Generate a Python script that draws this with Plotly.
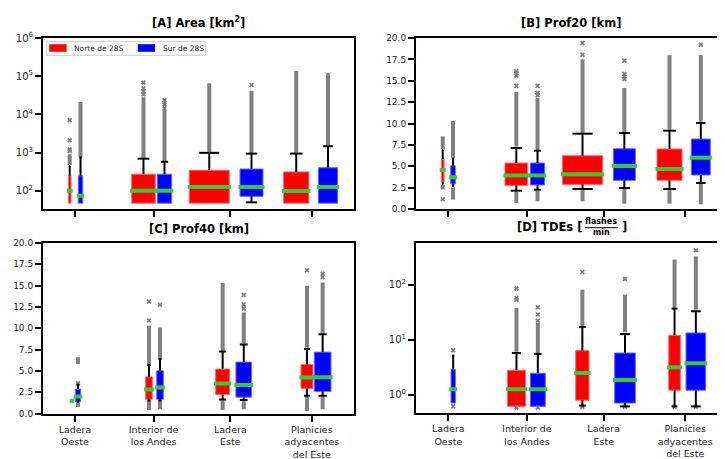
import math
import plotly.graph_objects as go

# ---------------- data ----------------
categories = ["Ladera<br>Oeste", "Interior de<br>los Andes", "Ladera<br>Este",
              "Planicies<br>adyacentes<br>del Este"]
series_names = ["Norte de 28S", "Sur de 28S"]

# [A] Area [km2]
A_red_q1 = [47, 47, 47, 47]
A_red_med = [100, 100, 125, 98]
A_red_q3 = [246, 270, 343, 310]
A_red_wlo = [47, 47, 47, 47]
A_red_whi = [445, 690, 980, 935]
A_red_fhi = [[470, 900], [700, 28000], [1000, 65000], [950, 137000]]
A_red_flo = [None, None, None, None]
A_red_pts = [[1100, 1200, 2100, 7000], [33000, 40000, 48000, 68000], [], []]

A_blue_q1 = [47, 47, 71, 47]
A_blue_med = [74, 100, 125, 125]
A_blue_q3 = [246, 270, 370, 400]
A_blue_wlo = [47, 47, 49.5, 47]
A_blue_whi = [740, 570, 935, 1460]
A_blue_fhi = [[760, 21000], [590, 15500], [960, 41500], [1500, 120000]]
A_blue_flo = [None, None, None, None]
A_blue_pts = [[], [18000, 20500, 23500], [59000], []]

# [B] Prof20 [km]
B_red_q1 = [3.19, 2.76, 2.88, 3.35]
B_red_med = [4.56, 3.93, 4.05, 4.68]
B_red_q3 = [5.85, 5.38, 6.23, 7.02]
B_red_wlo = [2.9, 2.14, 2.34, 2.34]
B_red_whi = [6.9, 7.13, 8.81, 9.16]
B_red_fhi = [[7.0, 8.5], [7.3, 13.7], [8.9, 17.5], [9.3, 18.0]]
B_red_flo = [[2.3, 2.8], [0.7, 2.0], [0.9, 2.2], [0.62, 2.2]]
B_red_pts = [[1.15], [14.4, 15.6, 15.9, 16.1], [18.05, 19.4], []]

B_blue_q1 = [2.92, 2.81, 3.35, 3.98]
B_blue_med = [3.70, 3.93, 5.03, 6.0]
B_blue_q3 = [5.06, 5.38, 7.05, 8.19]
B_blue_wlo = [2.7, 2.26, 2.45, 3.04]
B_blue_whi = [5.9, 6.82, 8.89, 10.06]
B_blue_fhi = [[6.0, 10.3], [6.9, 13.0], [9.0, 14.15], [10.2, 18.0]]
B_blue_flo = [[1.1, 2.55], [0.9, 2.15], [0.62, 2.35], [0.55, 2.95]]
B_blue_pts = [[], [13.3, 13.6, 14.4], [15.2, 15.5, 15.8, 17.35], [19.2]]

# [C] Prof40 [km]
C_red_q1 = [1.47, 1.65, 2.23, 2.94]
C_red_med = [1.5, 2.82, 3.52, 4.23]
C_red_q3 = [1.53, 4.31, 5.21, 5.75]
C_red_wlo = [1.47, 1.5, 1.65, 2.08]
C_red_whi = [1.53, 5.7, 7.28, 7.56]
C_red_fhi = [None, [5.8, 10.3], [7.4, 15.3], [7.7, 15.0]]
C_red_flo = [None, [0.4, 1.4], [0.4, 1.55], [0.3, 2.0]]
C_red_pts = [[], [10.9, 13.15], [], [16.8]]

C_blue_q1 = [1.41, 1.65, 1.92, 2.58]
C_blue_med = [2.0, 3.05, 3.33, 4.26]
C_blue_q3 = [2.86, 5.01, 6.03, 7.2]
C_blue_wlo = [1.35, 1.5, 1.57, 2.08]
C_blue_whi = [3.37, 6.38, 8.10, 9.31]
C_blue_fhi = [[5.8, 6.6], [6.5, 10.1], [8.2, 11.86], [9.4, 15.38]]
C_blue_flo = [[0.75, 1.25], [0.5, 1.4], [0.5, 1.45], [0.5, 2.0]]
C_blue_pts = [[3.55], [12.76], [12.3, 12.8, 13.9], [16.0, 16.4]]

# [D] TDEs [flashes/min]
D_red_q1 = [None, 0.61, 0.79, 1.2]
D_red_med = [None, 1.25, 2.47, 3.13]
D_red_q3 = [None, 2.77, 6.3, 12.0]
D_red_wlo = [None, 0.61, 0.63, 0.61]
D_red_whi = [None, 5.7, 16.9, 36.6]
D_red_fhi = [None, [6.0, 37.6], [17.5, 81], [38, 285]]
D_red_flo = [None, None, None, None]
D_red_pts = [[], [53, 57, 84.5, 0.58], [169, 0.6], [0.6]]

D_blue_q1 = [0.70, 0.61, 0.70, 1.2]
D_blue_med = [1.25, 1.25, 1.84, 3.71]
D_blue_q3 = [2.85, 2.44, 5.7, 13.2]
D_blue_wlo = [0.70, 0.61, 0.61, 0.61]
D_blue_whi = [5.1, 5.48, 12.6, 32.7]
D_blue_fhi = [None, [5.6, 20], [13.5, 65.8], [35, 327]]
D_blue_flo = [None, None, None, None]
D_blue_pts = [[6.4, 0.61], [22, 28.5, 38.6, 0.58], [126.5, 0.6], [421, 0.6]]

# tick labels
A_ytick_vals = [1e2, 1e3, 1e4, 1e5, 1e6]
A_ytick_text = ["10<sup>2</sup>", "10<sup>3</sup>", "10<sup>4</sup>", "10<sup>5</sup>",
                "10<sup>6</sup>"]
D_ytick_vals = [1, 10, 100]
D_ytick_text = ["10<sup>0</sup>", "10<sup>1</sup>", "10<sup>2</sup>"]
A_minor_vals = [m * 10 ** e for e in range(1, 6) for m in range(2, 10)]
D_minor_vals = [m * 10 ** e for e in range(-1, 3) for m in range(2, 10)]

# ---------------- layout: positions / widths (axis units) ----------------
tick_pos = [1, 1.997, 2.972, 4.006]
A_red_pos, A_red_w = [0.933, 1.869, 2.704, 3.808], [0.034, 0.300, 0.508, 0.321]
A_blue_pos, A_blue_w = [1.070, 2.136, 3.240, 4.211], [0.056, 0.183, 0.292, 0.245]
B_red_pos, B_red_w = [0.929, 1.863, 2.703, 3.807], [0.035, 0.288, 0.511, 0.317]
B_blue_pos, B_blue_w = [1.060, 2.132, 3.234, 4.204], [0.058, 0.181, 0.279, 0.241]
C_red_pos, C_red_w = [0.962, 1.939, 2.874, 3.944], [0.02, 0.084, 0.178, 0.152]
C_blue_pos, C_blue_w = [1.038, 2.079, 3.142, 4.143], [0.069, 0.084, 0.199, 0.212]
D_red_pos, D_red_w = [1.0, 1.865, 2.701, 3.871], [0.05, 0.232, 0.169, 0.148]
D_blue_pos, D_blue_w = [1.062, 2.136, 3.242, 4.141], [0.055, 0.190, 0.263, 0.250]

RED, BLUE = "#ff0000", "#0000ff"
RED_EDGE, BLUE_EDGE = "#ff6a6a", "#6a6aff"
GREEN = "#32cd32"
GRAY = "#808080"
FONT = "DejaVu Sans"
W, H = 725, 459
OX, OY = 8, 8          # page body margin of the html page
EXT = 0.02
PX_PER_UNIT = 78.8

AC_xrange = [0.594, 4.541]
BD_xrange = [0.590, 4.511]
A_yrange = [1.52, 6.0]
D_yrange = [-0.335, 2.756]

fig = go.Figure()


def add_panel(xa, ya, series):
    wx, wy, mx, my, fx, fy, px_, py_ = [], [], [], [], [], [], [], []
    for (name, fill, edge, q1, med, q3, wlo, whi, fhi, flo, pts, pos, wid) in series:
        for i in range(len(q1)):
            if q1[i] is None:
                continue
            fig.add_trace(go.Box(
                x=[pos[i]], q1=[q1[i]], median=[med[i]], q3=[q3[i]],
                lowerfence=[q1[i]], upperfence=[q3[i]], width=wid[i],
                fillcolor=fill, line=dict(color=edge, width=1), whiskerwidth=0,
                boxpoints=False, name=name, legendgroup=name, showlegend=False,
                hoverinfo="skip", xaxis=xa, yaxis=ya))
    for (name, fill, edge, q1, med, q3, wlo, whi, fhi, flo, pts, pos, wid) in series:
        for i in range(len(q1)):
            p = pos[i]
            for span in (fhi[i], flo[i]):
                if span:
                    fx += [p, p, None]
                    fy += [span[0], span[1], None]
            for v in pts[i]:
                px_.append(p)
                py_.append(v)
            if q1[i] is None:
                continue
            cw = wid[i] / 4
            if whi[i] > q3[i]:
                wx += [p, p, None, p - cw, p + cw, None]
                wy += [q3[i], whi[i], None, whi[i], whi[i], None]
            if wlo[i] < q1[i]:
                wx += [p, p, None, p - cw, p + cw, None]
                wy += [q1[i], wlo[i], None, wlo[i], wlo[i], None]
            mx += [p - wid[i] / 2 - EXT, p + wid[i] / 2 + EXT, None]
            my += [med[i], med[i], None]
    common = dict(xaxis=xa, yaxis=ya, showlegend=False, hoverinfo="skip")
    fig.add_trace(go.Scatter(x=fx, y=fy, mode="lines",
                             line=dict(color=GRAY, width=4), **common))
    fig.add_trace(go.Scatter(x=px_, y=py_, mode="markers",
                             marker=dict(symbol="x", size=4.5, color=GRAY,
                                         line=dict(width=0)), **common))
    fig.add_trace(go.Scatter(x=wx, y=wy, mode="lines",
                             line=dict(color="black", width=2), **common))
    fig.add_trace(go.Scatter(x=mx, y=my, mode="lines",
                             line=dict(color=GREEN, width=4), **common))


def add_minor_ticks(xa, ya, xrange_, yrange_, vals):
    # small outside tick marks for the log axis (matplotlib-style minor ticks)
    inside = [v for v in vals if yrange_[0] <= math.log10(v) <= yrange_[1]]
    xpos = xrange_[0] - 3.8 / PX_PER_UNIT
    fig.add_trace(go.Scatter(
        x=[xpos] * len(inside), y=inside, mode="markers", cliponaxis=False,
        marker=dict(symbol="line-ew", size=4, color="black",
                    line=dict(width=1, color="black")),
        xaxis=xa, yaxis=ya, showlegend=False, hoverinfo="skip"))


def ser(prefix, g):
    d = g
    return [
        (series_names[0], RED, RED_EDGE, d[prefix + "_red_q1"], d[prefix + "_red_med"],
         d[prefix + "_red_q3"], d[prefix + "_red_wlo"], d[prefix + "_red_whi"],
         d[prefix + "_red_fhi"], d[prefix + "_red_flo"], d[prefix + "_red_pts"],
         d[prefix + "_red_pos"], d[prefix + "_red_w"]),
        (series_names[1], BLUE, BLUE_EDGE, d[prefix + "_blue_q1"], d[prefix + "_blue_med"],
         d[prefix + "_blue_q3"], d[prefix + "_blue_wlo"], d[prefix + "_blue_whi"],
         d[prefix + "_blue_fhi"], d[prefix + "_blue_flo"], d[prefix + "_blue_pts"],
         d[prefix + "_blue_pos"], d[prefix + "_blue_w"]),
    ]


g = globals()
add_panel("x", "y", ser("A", g))
add_panel("x2", "y2", ser("B", g))
add_panel("x3", "y3", ser("C", g))
add_panel("x4", "y4", ser("D", g))
add_minor_ticks("x", "y", AC_xrange, A_yrange, A_minor_vals)
add_minor_ticks("x4", "y4", BD_xrange, D_yrange, D_minor_vals)


# ---------------- axes (screen px -> paper) ----------------
def PX(px):
    return (px - OX) / W


def PY(py):
    return 1 - (py - OY) / H


def xd(a, b):
    return [PX(a), PX(b)]


def yd(top, bottom):
    return [PY(bottom), PY(top)]


tickfont = dict(family=FONT, size=9, color="#262626")
logfont = dict(family=FONT, size=10, color="#262626")
base_x = dict(showline=True, linecolor="black", linewidth=2, ticks="outside",
              ticklen=6, tickwidth=1.5, tickcolor="black", tickvals=tick_pos,
              showgrid=False, zeroline=False, automargin=False,
              tickfont=dict(family=FONT, size=9.5, color="#262626"))
base_y = dict(showline=True, linecolor="black", linewidth=2, ticks="outside",
              ticklen=6, tickwidth=1.5, tickcolor="black", showgrid=False,
              zeroline=False, automargin=False, tickfont=tickfont)

fig.update_layout(
    xaxis=dict(base_x, domain=xd(43, 354), range=AC_xrange, mirror=True,
               showticklabels=False, anchor="y"),
    yaxis=dict(base_y, domain=yd(38, 209), type="log", range=A_yrange,
               tickvals=A_ytick_vals, ticktext=A_ytick_text, tickfont=logfont,
               mirror=True, anchor="x"),
    xaxis2=dict(base_x, domain=xd(416, 725), range=BD_xrange, mirror=True,
                showticklabels=False, anchor="y2"),
    yaxis2=dict(base_y, domain=yd(38, 209), range=[0, 20], dtick=2.5, tickformat=".1f",
                mirror=False, anchor="x2"),
    xaxis3=dict(base_x, domain=xd(43, 354), range=AC_xrange, mirror=True,
                ticktext=categories, anchor="y3"),
    yaxis3=dict(base_y, domain=yd(243, 413.5), range=[0, 20], dtick=2.5, tickformat=".1f",
                mirror=True, anchor="x3"),
    xaxis4=dict(base_x, domain=xd(416, 725), range=BD_xrange, mirror=True,
                ticktext=categories, anchor="y4"),
    yaxis4=dict(base_y, domain=yd(243, 413), type="log", range=D_yrange,
                tickvals=D_ytick_vals, ticktext=D_ytick_text, tickfont=logfont,
                mirror=False, anchor="x4"),
)

# ---------------- titles ----------------
tfont = dict(family=FONT, size=11.5, color="black")
ann = [
    dict(text="<b>[A] Area [km<sup>2</sup>]</b>", x=PX(198.5), y=PY(22.7)),
    dict(text="<b>[B] Prof20 [km]</b>", x=PX(571), y=PY(22.7)),
    dict(text="<b>[C] Prof40 [km]</b>", x=PX(198.5), y=PY(229.3)),
]
annotations = [dict(a, xref="paper", yref="paper", showarrow=False, font=tfont,
                    xanchor="center", yanchor="middle") for a in ann]
annotations += [
    dict(text="<b>[D] TDEs [</b>", x=PX(584), y=PY(227.5), xanchor="right",
         yanchor="middle", font=tfont),
    dict(text="<b>flashes</b>", x=PX(601.3), y=PY(221.7), xanchor="center",
         yanchor="middle", font=dict(family=FONT, size=8, color="black")),
    dict(text="<b>min</b>", x=PX(601.3), y=PY(232.8), xanchor="center",
         yanchor="middle", font=dict(family=FONT, size=8, color="black")),
    dict(text="<b>]</b>", x=PX(619.5), y=PY(227.5), xanchor="left",
         yanchor="middle", font=tfont),
]
for a in annotations[3:]:
    a.update(xref="paper", yref="paper", showarrow=False)

# legend (drawn as patches + text inside panel A)
lfont = dict(family=FONT, size=7.5, color="#262626")
leg_items = [(series_names[0], RED, 49.3, 72), (series_names[1], BLUE, 137.7, 161)]
shapes = [
    dict(type="line", xref="paper", yref="paper", x0=PX(585), x1=PX(618),
         y0=PY(227.7), y1=PY(227.7), line=dict(color="black", width=1)),
    dict(type="rect", xref="paper", yref="paper", x0=PX(46.7), x1=PX(205.7),
         y0=PY(55.3), y1=PY(41.7), line=dict(color="#cccccc", width=1),
         fillcolor="rgba(255,255,255,0.85)"),
]
for name, col, x0, tx in leg_items:
    shapes.append(dict(type="rect", xref="paper", yref="paper", x0=PX(x0),
                       x1=PX(x0 + 17.3), y0=PY(51.8), y1=PY(44.2),
                       line=dict(width=0), fillcolor=col))
    annotations.append(dict(text=name, x=PX(tx), y=PY(48.3), xref="paper",
                            yref="paper", xanchor="left", yanchor="middle",
                            showarrow=False, font=lfont))

fig.update_layout(
    annotations=annotations,
    shapes=shapes,
    width=W, height=H, margin=dict(l=0, r=0, t=0, b=0),
    paper_bgcolor="white", plot_bgcolor="white",
    boxmode="overlay", showlegend=False,
    font=dict(family=FONT, color="#262626"),
)

fig.write_html("out.html")
